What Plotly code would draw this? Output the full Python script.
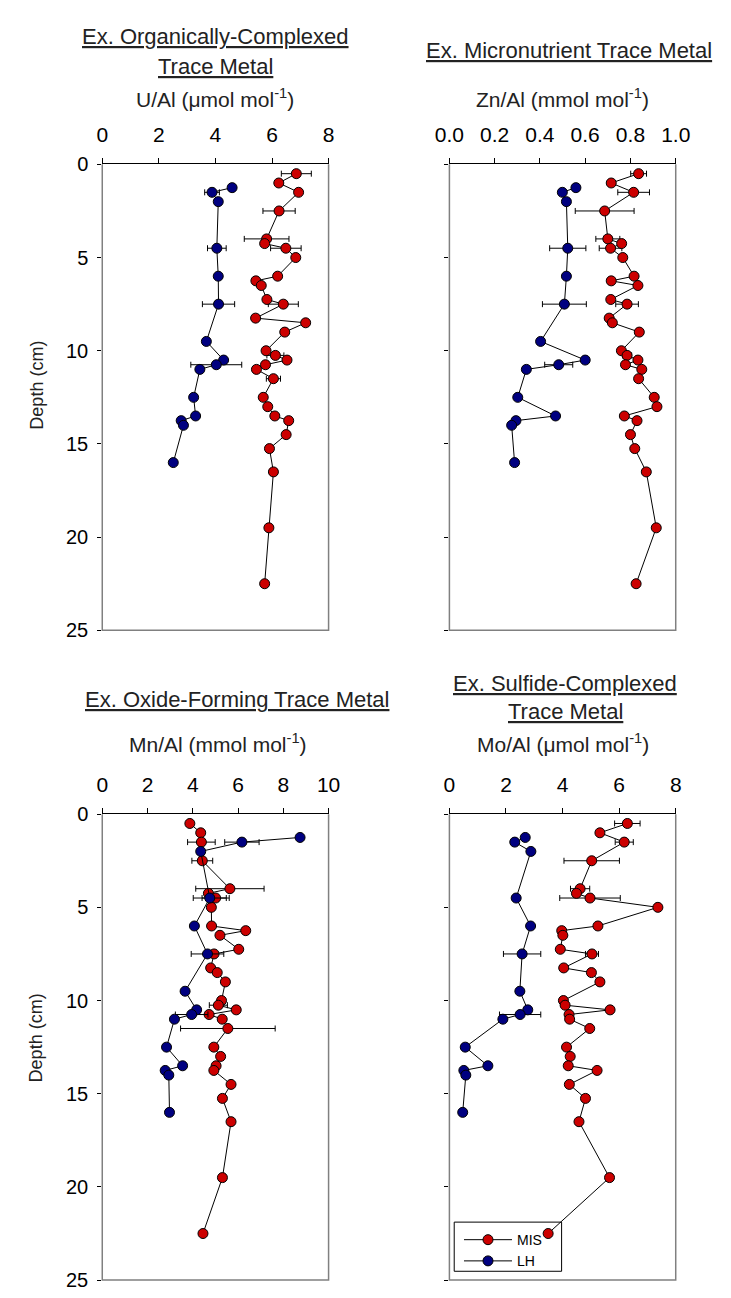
import plotly.graph_objects as go

W, H = 731, 1298

depth_mis = [0.5, 1, 1.5, 2.5, 4, 4.25, 4.5, 5, 6, 6.25, 6.5, 7.25, 7.5, 8.25, 8.5, 9, 10, 10.25,
             10.5, 10.75, 11, 11.5, 12.5, 13, 13.5, 13.75, 14.5, 15.25, 16.5, 19.5, 22.5]
depth_lh = [1.25, 1.5, 2, 4.5, 6, 7.5, 9.5, 10.5, 10.75, 11, 12.5, 13.5, 13.75, 14, 16]

u_mis = [6.86, 6.24, 6.94, 6.25, 5.81, 5.74, 6.49, 6.84, 6.20, 5.43, 5.62, 5.82, 6.40, 5.42, 7.19, 6.45,
         5.79, 6.12, 6.53, 5.77, 5.45, 6.05, 5.69, 5.85, 6.10, 6.59, 6.50, 5.91, 6.05, 5.89, 5.74]
u_mis_err = [0.53, 0, 0, 0.57, 0.79, 0, 0.54, 0, 0, 0, 0, 0, 0.53, 0, 0, 0, 0, 0.3, 0, 0, 0, 0.25,
             0, 0, 0, 0, 0, 0, 0, 0, 0]
u_lh = [4.59, 3.88, 4.10, 4.05, 4.10, 4.11, 3.68, 4.29, 4.03, 3.45, 3.23, 3.30, 2.79, 2.87, 2.51]
u_lh_err = [0, 0.26, 0, 0.33, 0, 0.57, 0, 0, 0.9, 0, 0, 0, 0, 0, 0]

zn_mis = [0.836, 0.715, 0.814, 0.686, 0.700, 0.761, 0.712, 0.766, 0.816, 0.715, 0.833, 0.713, 0.785,
          0.706, 0.720, 0.839, 0.760, 0.785, 0.833, 0.778, 0.850, 0.836, 0.905, 0.917, 0.773, 0.829,
          0.800, 0.819, 0.870, 0.914, 0.825]
zn_mis_err = [0.035, 0, 0.07, 0.13, 0.053, 0, 0.05, 0, 0, 0, 0, 0, 0.05, 0, 0, 0, 0, 0.02, 0, 0, 0,
              0, 0, 0, 0, 0, 0, 0, 0, 0, 0]
zn_lh = [0.559, 0.499, 0.517, 0.523, 0.517, 0.508, 0.403, 0.600, 0.483, 0.340, 0.302, 0.469, 0.294,
         0.275, 0.288]
zn_lh_err = [0, 0.01, 0, 0.08, 0, 0.097, 0, 0, 0.062, 0, 0, 0, 0, 0, 0]

mn_mis = [3.87, 4.35, 4.38, 4.42, 5.64, 4.69, 5.01, 4.82, 4.83, 6.34, 5.20, 6.03, 4.94, 4.79, 5.08, 5.44,
          5.27, 5.13, 5.92, 4.72, 5.30, 5.55, 4.93, 5.23, 5.03, 4.93, 5.69, 5.31, 5.69, 5.31, 4.45]
mn_mis_err = [0, 0, 0.61, 0.46, 1.51, 0, 0.6, 0, 0, 0, 0, 0, 0, 0, 0, 0, 0, 0.4, 0, 0, 0, 2.09,
              0, 0, 0, 0, 0, 0, 0, 0, 0]
mn_lh = [8.74, 6.17, 4.35, 4.75, 4.07, 4.65, 3.66, 4.17, 3.95, 3.19, 2.84, 3.55, 2.78, 2.94, 2.97]
mn_lh_err = [0, 0.76, 0, 0.73, 0, 0.72, 0, 0, 0.72, 0, 0, 0, 0, 0, 0]

mo_mis = [6.29, 5.32, 6.18, 5.03, 4.62, 4.49, 4.97, 7.37, 5.25, 3.97, 4.01, 3.92, 5.04, 4.04, 5.02, 5.32,
          4.03, 4.09, 5.68, 4.23, 4.25, 4.96, 4.14, 4.27, 4.20, 5.22, 4.24, 4.81, 4.58, 5.66, 3.49]
mo_mis_err = [0.45, 0, 0.32, 0.98, 0.34, 0, 1.07, 0, 0, 0, 0, 0, 0.23, 0, 0, 0, 0, 0, 0, 0, 0, 0,
              0, 0, 0, 0, 0, 0, 0, 0, 0]
mo_lh = [2.68, 2.31, 2.88, 2.36, 2.87, 2.57, 2.49, 2.77, 2.50, 1.89, 0.56, 1.36, 0.51, 0.58, 0.47]
mo_lh_err = [0, 0, 0, 0, 0, 0.66, 0, 0, 0.73, 0, 0, 0, 0, 0, 0]

x_ranges = [[0, 8], [0, 1], [0, 10], [0, 8]]
x_ticks = [[0, 2, 4, 6, 8], [0, 0.2, 0.4, 0.6, 0.8, 1.0], [0, 2, 4, 6, 8, 10], [0, 2, 4, 6, 8]]
x_ticklabels = [["0", "2", "4", "6", "8"], ["0.0", "0.2", "0.4", "0.6", "0.8", "1.0"],
                ["0", "2", "4", "6", "8", "10"], ["0", "2", "4", "6", "8"]]
y_ticks = [0, 5, 10, 15, 20, 25]

RED = "#cc0000"
BLUE = "#000080"
FONT = "Liberation Sans, Arial, sans-serif"

# plot-area pixel boxes (left, right, top, bottom)
boxes = [(91, 327, 156, 630), (453, 689, 156, 630), (91, 327, 817, 1291), (453, 689, 817, 1291)]

fig = go.Figure()

series = [
    (u_mis, u_mis_err, u_lh, u_lh_err),
    (zn_mis, zn_mis_err, zn_lh, zn_lh_err),
    (mn_mis, mn_mis_err, mn_lh, mn_lh_err),
    (mo_mis, mo_mis_err, mo_lh, mo_lh_err),
]

for i, (m, me, l, le) in enumerate(series):
    xa = "x" if i == 0 else f"x{i+1}"
    ya = "y" if i == 0 else f"y{i+1}"
    for vals, errs, dep, col, name in [(m, me, depth_mis, RED, "MIS"), (l, le, depth_lh, BLUE, "LH")]:
        fig.add_trace(go.Scatter(
            x=vals, y=dep, xaxis=xa, yaxis=ya, mode="lines+markers", name=name,
            showlegend=(i == 3),
            line=dict(color="black", width=1),
            marker=dict(color=col, size=10, line=dict(color="black", width=1)),
            error_x=dict(type="data", array=errs, visible=True, color="black", thickness=1, width=3),
        ))

layout = dict(
    width=W, height=H, margin=dict(l=0, r=0, t=0, b=0),
    paper_bgcolor="white", plot_bgcolor="white",
    font=dict(family=FONT, size=20, color="black"),
    showlegend=True,
    legend=dict(x=463 / W, y=1 - 1234 / H, xanchor="left", yanchor="top",
                borderwidth=0, bgcolor="rgba(0,0,0,0)",
                font=dict(size=14, family=FONT),
                itemwidth=48, tracegroupgap=0),
)

shapes = []
for i, (l, r, t, b) in enumerate(boxes):
    sfx = "" if i == 0 else str(i + 1)
    layout["xaxis" + sfx] = dict(
        domain=[l / W, r / W], range=x_ranges[i], side="top", anchor="y" + sfx,
        tickvals=x_ticks[i], ticktext=x_ticklabels[i], ticks="outside", ticklen=5,
        tickcolor="black", showline=True, linecolor="black", linewidth=1, showgrid=False,
        zeroline=False, tickfont=dict(size=21), ticklabelstandoff=8, fixedrange=True,
    )
    layout["yaxis" + sfx] = dict(
        domain=[1 - b / H, 1 - t / H], range=[25, 0], anchor="x" + sfx,
        tickvals=y_ticks, ticks="outside", ticklen=4, tickcolor="black",
        showticklabels=(i in (0, 2)), showline=False, showgrid=False, zeroline=False,
        tickfont=dict(size=20), ticklabelstandoff=5,
    )
    # gray frame: left, right, bottom
    shapes.append(dict(type="path", xref="paper", yref="paper",
                       path=f"M {l/W} {1-t/H} L {l/W} {1-b/H} L {r/W} {1-b/H} L {r/W} {1-t/H}",
                       line=dict(color="#808080", width=1.5)))

# legend frame
shapes.append(dict(type="rect", xref="paper", yref="paper", layer="below",
                   x0=458 / W, x1=570 / W, y0=1 - 1282 / H, y1=1 - 1232 / H,
                   line=dict(color="black", width=1), fillcolor="white"))
layout["shapes"] = shapes

# (x-centre, y-centre, text, size)
titles = [
    (209, 26, "<u>Ex. Organically-Complexed</u>", 22),
    (209, 56, "<u>Trace Metal</u>", 22),
    (209, 88, "U/Al (\u03bcmol mol<sup>-1</sup>)", 21),
    (578, 40, "<u>Ex. Micronutrient Trace Metal</u>", 22),
    (571, 88, "Zn/Al (mmol mol<sup>-1</sup>)", 21),
    (232, 700, "<u>Ex. Oxide-Forming Trace Metal</u>", 22),
    (212, 745, "Mn/Al (mmol mol<sup>-1</sup>)", 21),
    (574, 684, "<u>Ex. Sulfide-Complexed</u>", 22),
    (574, 713, "<u>Trace Metal</u>", 22),
    (571, 745, "Mo/Al (\u03bcmol mol<sup>-1</sup>)", 21),
]
annotations = []
for cx, cy, txt, fs in titles:
    annotations.append(dict(text=txt, x=cx / W, y=1 - cy / H, xref="paper", yref="paper",
                            xanchor="center", yanchor="middle", showarrow=False,
                            font=dict(size=fs, color="#222222")))
for yc in (381, 1045):
    annotations.append(dict(text="Depth (cm)", x=22 / W, y=1 - yc / H, xref="paper", yref="paper",
                            xanchor="center", yanchor="middle", showarrow=False, textangle=-90,
                            font=dict(size=18, color="#222222")))
layout["annotations"] = annotations

fig.update_layout(**layout)
fig.write_html("out.html")
